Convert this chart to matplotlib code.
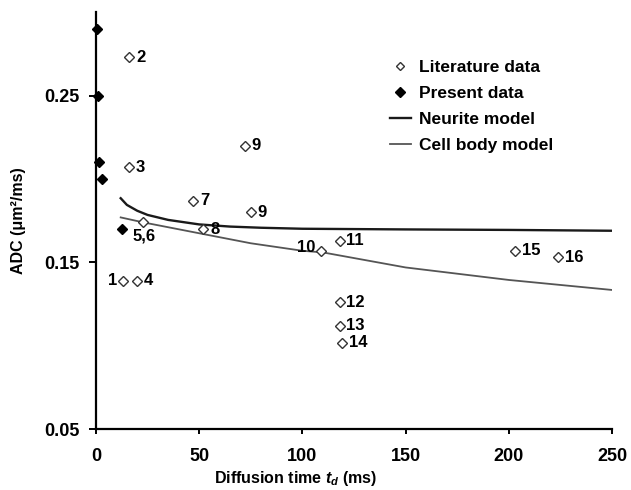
import matplotlib
matplotlib.use("Agg")
import matplotlib.pyplot as plt

plt.rcParams["font.family"] = ["Liberation Sans", "DejaVu Sans"]
plt.rcParams["font.weight"] = "bold"
plt.rcParams["mathtext.fontset"] = "custom"
plt.rcParams["mathtext.it"] = "Liberation Sans:italic:bold"
plt.rcParams["mathtext.rm"] = "Liberation Sans:bold"

# ---------- data ----------
lit_t = [16, 16, 72, 47, 75, 23, 52, 13, 20, 109, 118, 118, 118, 119, 203, 224]
lit_adc = [0.273, 0.207, 0.220, 0.187, 0.180, 0.174, 0.170, 0.139, 0.139,
           0.157, 0.163, 0.126, 0.112, 0.102, 0.157, 0.153]
lit_labels = ["2", "3", "9", "7", "9", "5,6", "8", "1", "4",
              "10", "11", "12", "13", "14", "15", "16"]

present_t = [0.5, 1, 1.7, 2.8, 12.5]
present_adc = [0.290, 0.250, 0.210, 0.200, 0.170]

neurite_t = [12, 15, 20, 25, 35, 50, 65, 80, 100, 150, 200, 250]
neurite_adc = [0.1885, 0.1845, 0.181, 0.1785, 0.1755, 0.1728, 0.1715,
               0.1708, 0.1702, 0.1698, 0.1695, 0.169]

cell_t = [12, 23, 50, 75, 100, 110, 150, 200, 250]
cell_adc = [0.177, 0.174, 0.1675, 0.1615, 0.157, 0.156, 0.147, 0.1395, 0.1335]

x_ticks = [0, 50, 100, 150, 200, 250]
y_ticks = [0.05, 0.15, 0.25]

# label placement (offset in points) -- style only
_right = (5, 0, "left")
label_pos = {"1": (-4, 0, "right"), "10": (-4, 2, "right"), "5,6": (-8, -10, "left")}

fig = plt.figure(figsize=(6.31, 4.90), dpi=100)
ax = fig.add_axes([0.152, 0.124, 0.818, 0.851])

ax.plot(neurite_t, neurite_adc, color="#1a1a1a", lw=1.7, label="Neurite model")
ax.plot(cell_t, cell_adc, color="#555555", lw=1.3, label="Cell body model")
ax.plot(lit_t, lit_adc, ls="none", marker="D", ms=5, mfc="white", mec="#333333",
        mew=1.0, label="Literature data", zorder=3)
ax.plot(present_t, present_adc, ls="none", marker="D", ms=5.5, mfc="black",
        mec="black", label="Present data", zorder=3, clip_on=False)

for t, a, lab in zip(lit_t, lit_adc, lit_labels):
    dx, dy, ha = label_pos.get(lab, _right)
    ax.annotate(lab, (t, a), xytext=(dx, dy), textcoords="offset points",
                ha=ha, va="center", fontsize=12, fontweight="bold")

ax.set_xlim(0, 250)
ax.set_ylim(0.05, 0.30)
ax.set_xticks(x_ticks)
ax.set_yticks(y_ticks)
ax.set_yticklabels([f"{v:.2f}" for v in y_ticks])
for s in ("top", "right"):
    ax.spines[s].set_visible(False)
for s in ("left", "bottom"):
    ax.spines[s].set_linewidth(1.6)
ax.tick_params(axis="x", length=3.5, width=1.4, pad=10, labelsize=13)
ax.tick_params(axis="y", length=5, width=1.4, pad=7, labelsize=13)

ax.set_xlabel("Diffusion time $t_d$ (ms)", fontsize=11.5, fontweight="bold")
ax.xaxis.set_label_coords(0.386, -0.095)
ax.set_ylabel("ADC (μm²/ms)", fontsize=11.5, fontweight="bold")
ax.yaxis.set_label_coords(-0.135, 0.5)

h, l = ax.get_legend_handles_labels()
order = [2, 3, 0, 1]
ax.legend([h[i] for i in order], [l[i] for i in order], loc="upper left",
          bbox_to_anchor=(0.618, 0.878), bbox_transform=fig.transFigure,
          frameon=False, fontsize=12.5, handlelength=1.2, handletextpad=0.5,
          labelspacing=0.63, borderpad=0, borderaxespad=0, markerscale=0.9)

fig.savefig("out.png", dpi=100)
